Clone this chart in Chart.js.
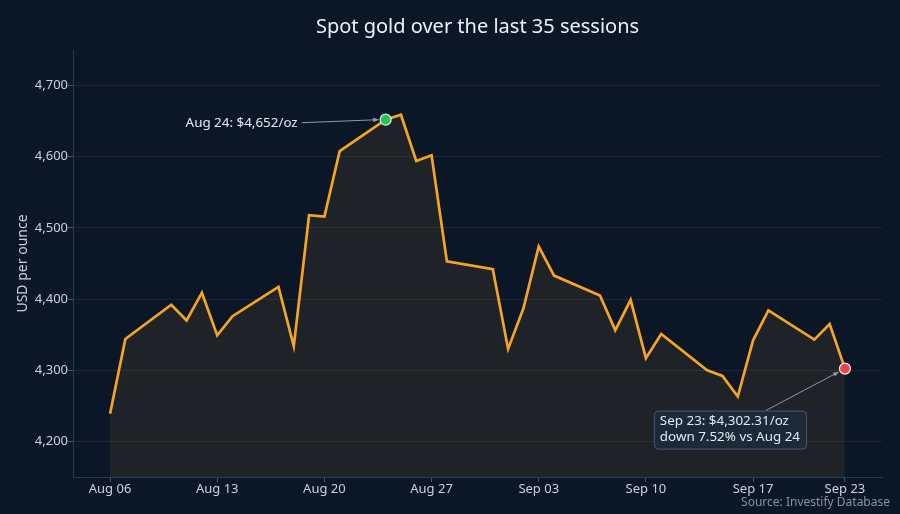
<!DOCTYPE html>
<html>
<head>
<meta charset="utf-8">
<title>Spot gold</title>
<script src="https://cdn.jsdelivr.net/npm/chart.js@4.4.1/dist/chart.umd.min.js"></script>
<style>
  html, body { margin: 0; padding: 0; background: #0b1627; }
  #wrap { width: 900px; height: 514px; position: relative; }
</style>
</head>
<body>
<div id="wrap"><canvas id="goldChart"></canvas></div>
<script>
// sessions (weekdays) and closing prices, USD per ounce
var sessionDates = [
  "2026-08-06","2026-08-07","2026-08-10","2026-08-11","2026-08-12","2026-08-13","2026-08-14",
  "2026-08-17","2026-08-18","2026-08-19","2026-08-20","2026-08-21","2026-08-24","2026-08-25",
  "2026-08-26","2026-08-27","2026-08-28","2026-08-31","2026-09-01","2026-09-02","2026-09-03",
  "2026-09-04","2026-09-07","2026-09-08","2026-09-09","2026-09-10","2026-09-11","2026-09-14",
  "2026-09-15","2026-09-16","2026-09-17","2026-09-18","2026-09-21","2026-09-22","2026-09-23"
];
var closes = [
  4239, 4344, 4392, 4370, 4409, 4349, 4376,
  4417, 4334, 4518, 4516, 4608, 4652.1, 4659,
  4594, 4602, 4453, 4442, 4330, 4387, 4474,
  4433, 4405, 4356, 4399, 4317, 4351, 4300,
  4292, 4263, 4342, 4384, 4343, 4365, 4302.31
];
var tickDates = ["2026-08-06","2026-08-13","2026-08-20","2026-08-27","2026-09-03","2026-09-10","2026-09-17","2026-09-23"];
var tickLabels = ["Aug 06","Aug 13","Aug 20","Aug 27","Sep 03","Sep 10","Sep 17","Sep 23"];
var yTicks = [4200, 4300, 4400, 4500, 4600, 4700];
var peakDate = "2026-08-24";
var lastDate = "2026-09-23";

var DAY = 86400000;
var t0 = Date.parse(sessionDates[0]);
function dayNum(s) { return (Date.parse(s) - t0) / DAY; }
function fmt(v, d) {
  return v.toLocaleString("en-US", {minimumFractionDigits: d, maximumFractionDigits: d});
}

var points = sessionDates.map(function (d, i) { return {x: dayNum(d), y: closes[i]}; });
var peakIdx = sessionDates.indexOf(peakDate);
var lastIdx = sessionDates.indexOf(lastDate);
var peakVal = closes[peakIdx];
var lastVal = closes[lastIdx];
var pctDown = (1 - lastVal / peakVal) * 100;

var FONT = "'Noto Sans', 'Open Sans', sans-serif";
var BG = "#0b1627";
var TXT = "#c9d1dc";

var bgPlugin = {
  id: "bg",
  beforeDraw: function (chart) {
    var c = chart.ctx;
    c.save();
    c.fillStyle = BG;
    c.fillRect(0, 0, chart.width, chart.height);
    c.restore();
  }
};

function arrow(c, x1, y1, x2, y2) {
  c.beginPath();
  c.moveTo(x1, y1);
  c.lineTo(x2, y2);
  c.stroke();
  var a = Math.atan2(y2 - y1, x2 - x1), L = 6;
  c.beginPath();
  c.moveTo(x2, y2);
  c.lineTo(x2 - L * Math.cos(a - 0.4), y2 - L * Math.sin(a - 0.4));
  c.lineTo(x2 - L * Math.cos(a + 0.4), y2 - L * Math.sin(a + 0.4));
  c.closePath();
  c.fill();
}

var notePlugin = {
  id: "notes",
  afterDatasetsDraw: function (chart) {
    var c = chart.ctx, xs = chart.scales.x, ys = chart.scales.y;
    c.save();
    c.font = "13.4px " + FONT;
    c.strokeStyle = "#8e99a8";
    c.fillStyle = "#8e99a8";
    c.lineWidth = 1;

    // peak label
    var px = xs.getPixelForValue(dayNum(peakDate)), py = ys.getPixelForValue(peakVal);
    var t1 = "Aug 24: $" + fmt(Math.round(peakVal), 0) + "/oz";
    var tx = px - 88, ty = py + 4;
    arrow(c, tx + 4, ty - 1, px - 7, py);
    c.fillStyle = "#e4e9f0";
    c.textAlign = "right";
    c.textBaseline = "middle";
    c.fillText(t1, tx, ty);

    // last session box
    var lx = xs.getPixelForValue(dayNum(lastDate)), ly = ys.getPixelForValue(lastVal);
    var l1 = "Sep 23: $" + fmt(lastVal, 2) + "/oz";
    var l2 = "down " + fmt(pctDown, 2) + "% vs Aug 24";
    var bw = Math.max(c.measureText(l1).width, c.measureText(l2).width) + 12;
    var bh = 38;
    var bx = lx - 39 - bw, by = ly + 42;
    var cx = bx + bw / 2, cy = by + bh / 2;
    var t = (cy - by) / (cy - ly);
    var sx = cx + (lx - cx) * t;
    c.strokeStyle = "#8e99a8";
    c.fillStyle = "#8e99a8";
    var dx = lx - sx, dy = ly - by, dl = Math.sqrt(dx * dx + dy * dy);
    arrow(c, sx, by, lx - dx / dl * 7, ly - dy / dl * 7);

    c.beginPath();
    c.roundRect(bx + 0.5, by + 0.5, bw, bh, 4);
    c.fillStyle = "rgba(28,42,60,0.88)";
    c.fill();
    c.strokeStyle = "#4a5a70";
    c.stroke();
    c.fillStyle = "#e4e9f0";
    c.textAlign = "left";
    c.fillText(l1, bx + 6, by + 11);
    c.fillText(l2, bx + 6, by + 27);

    // source
    c.font = "12px " + FONT;
    c.fillStyle = "#8793a3";
    c.textAlign = "right";
    c.fillText("Source: Investify Database", chart.width - 10, chart.height - 11);
    c.restore();
  }
};

new Chart("goldChart", {
  type: "line",
  data: {
    datasets: [{
      label: "Spot gold",
      data: points,
      borderColor: "#f5a524",
      borderWidth: 2.7,
      backgroundColor: "rgba(245,166,35,0.085)",
      fill: "start",
      tension: 0,
      pointRadius: 0,
      order: 2
    }, {
      label: "peak",
      data: [points[peakIdx]],
      pointRadius: 5.5,
      pointBackgroundColor: "#22c55e",
      pointBorderColor: "#e8eef5",
      pointBorderWidth: 1.2,
      showLine: false,
      order: 1
    }, {
      label: "last",
      data: [points[lastIdx]],
      pointRadius: 5.5,
      pointBackgroundColor: "#ef4444",
      pointBorderColor: "#e8eef5",
      pointBorderWidth: 1.2,
      showLine: false,
      order: 1
    }]
  },
  options: {
    responsive: true,
    maintainAspectRatio: false,
    animation: false,
    layout: { padding: { left: 0, right: 18, top: 0, bottom: 0 } },
    plugins: {
      legend: { display: false },
      tooltip: { enabled: false },
      title: {
        display: true,
        text: "Spot gold over the last 35 sessions",
        fullSize: false,
        color: "#eef2f7",
        font: { family: FONT, size: 20, weight: "normal" },
        padding: { top: 15, bottom: 11 }
      }
    },
    scales: {
      x: {
        type: "linear",
        min: -2.42,
        max: dayNum(lastDate) + 2.42,
        afterBuildTicks: function (s) {
          s.ticks = tickDates.map(function (d) { return {value: dayNum(d)}; });
        },
        afterFit: function (s) { s.height = 37; },
        ticks: {
          autoSkip: false,
          maxRotation: 0,
          padding: -1,
          color: TXT,
          font: { family: FONT, size: 13 },
          callback: function (v, i) { return tickLabels[i]; }
        },
        grid: { color: "rgba(0,0,0,0)", tickColor: "#4a5668", tickLength: 5 },
        border: { color: "#2c3a4d" }
      },
      y: {
        min: 4150,
        max: 4750,
        afterBuildTicks: function (s) {
          s.ticks = yTicks.map(function (v) { return {value: v}; });
        },
        afterFit: function (s) { s.width = 73; },
        ticks: {
          padding: 0,
          color: TXT,
          font: { family: FONT, size: 13 },
          callback: function (v) { return fmt(v, 0); }
        },
        grid: { color: "rgba(255,255,255,0.07)", tickColor: "#4a5668", tickLength: 5 },
        border: { color: "#2c3a4d" },
        title: {
          display: true,
          text: "USD per ounce",
          color: TXT,
          font: { family: FONT, size: 14 },
          padding: { top: 15, bottom: 0 }
        }
      }
    }
  },
  plugins: [bgPlugin, notePlugin]
});
</script>
</body>
</html>
